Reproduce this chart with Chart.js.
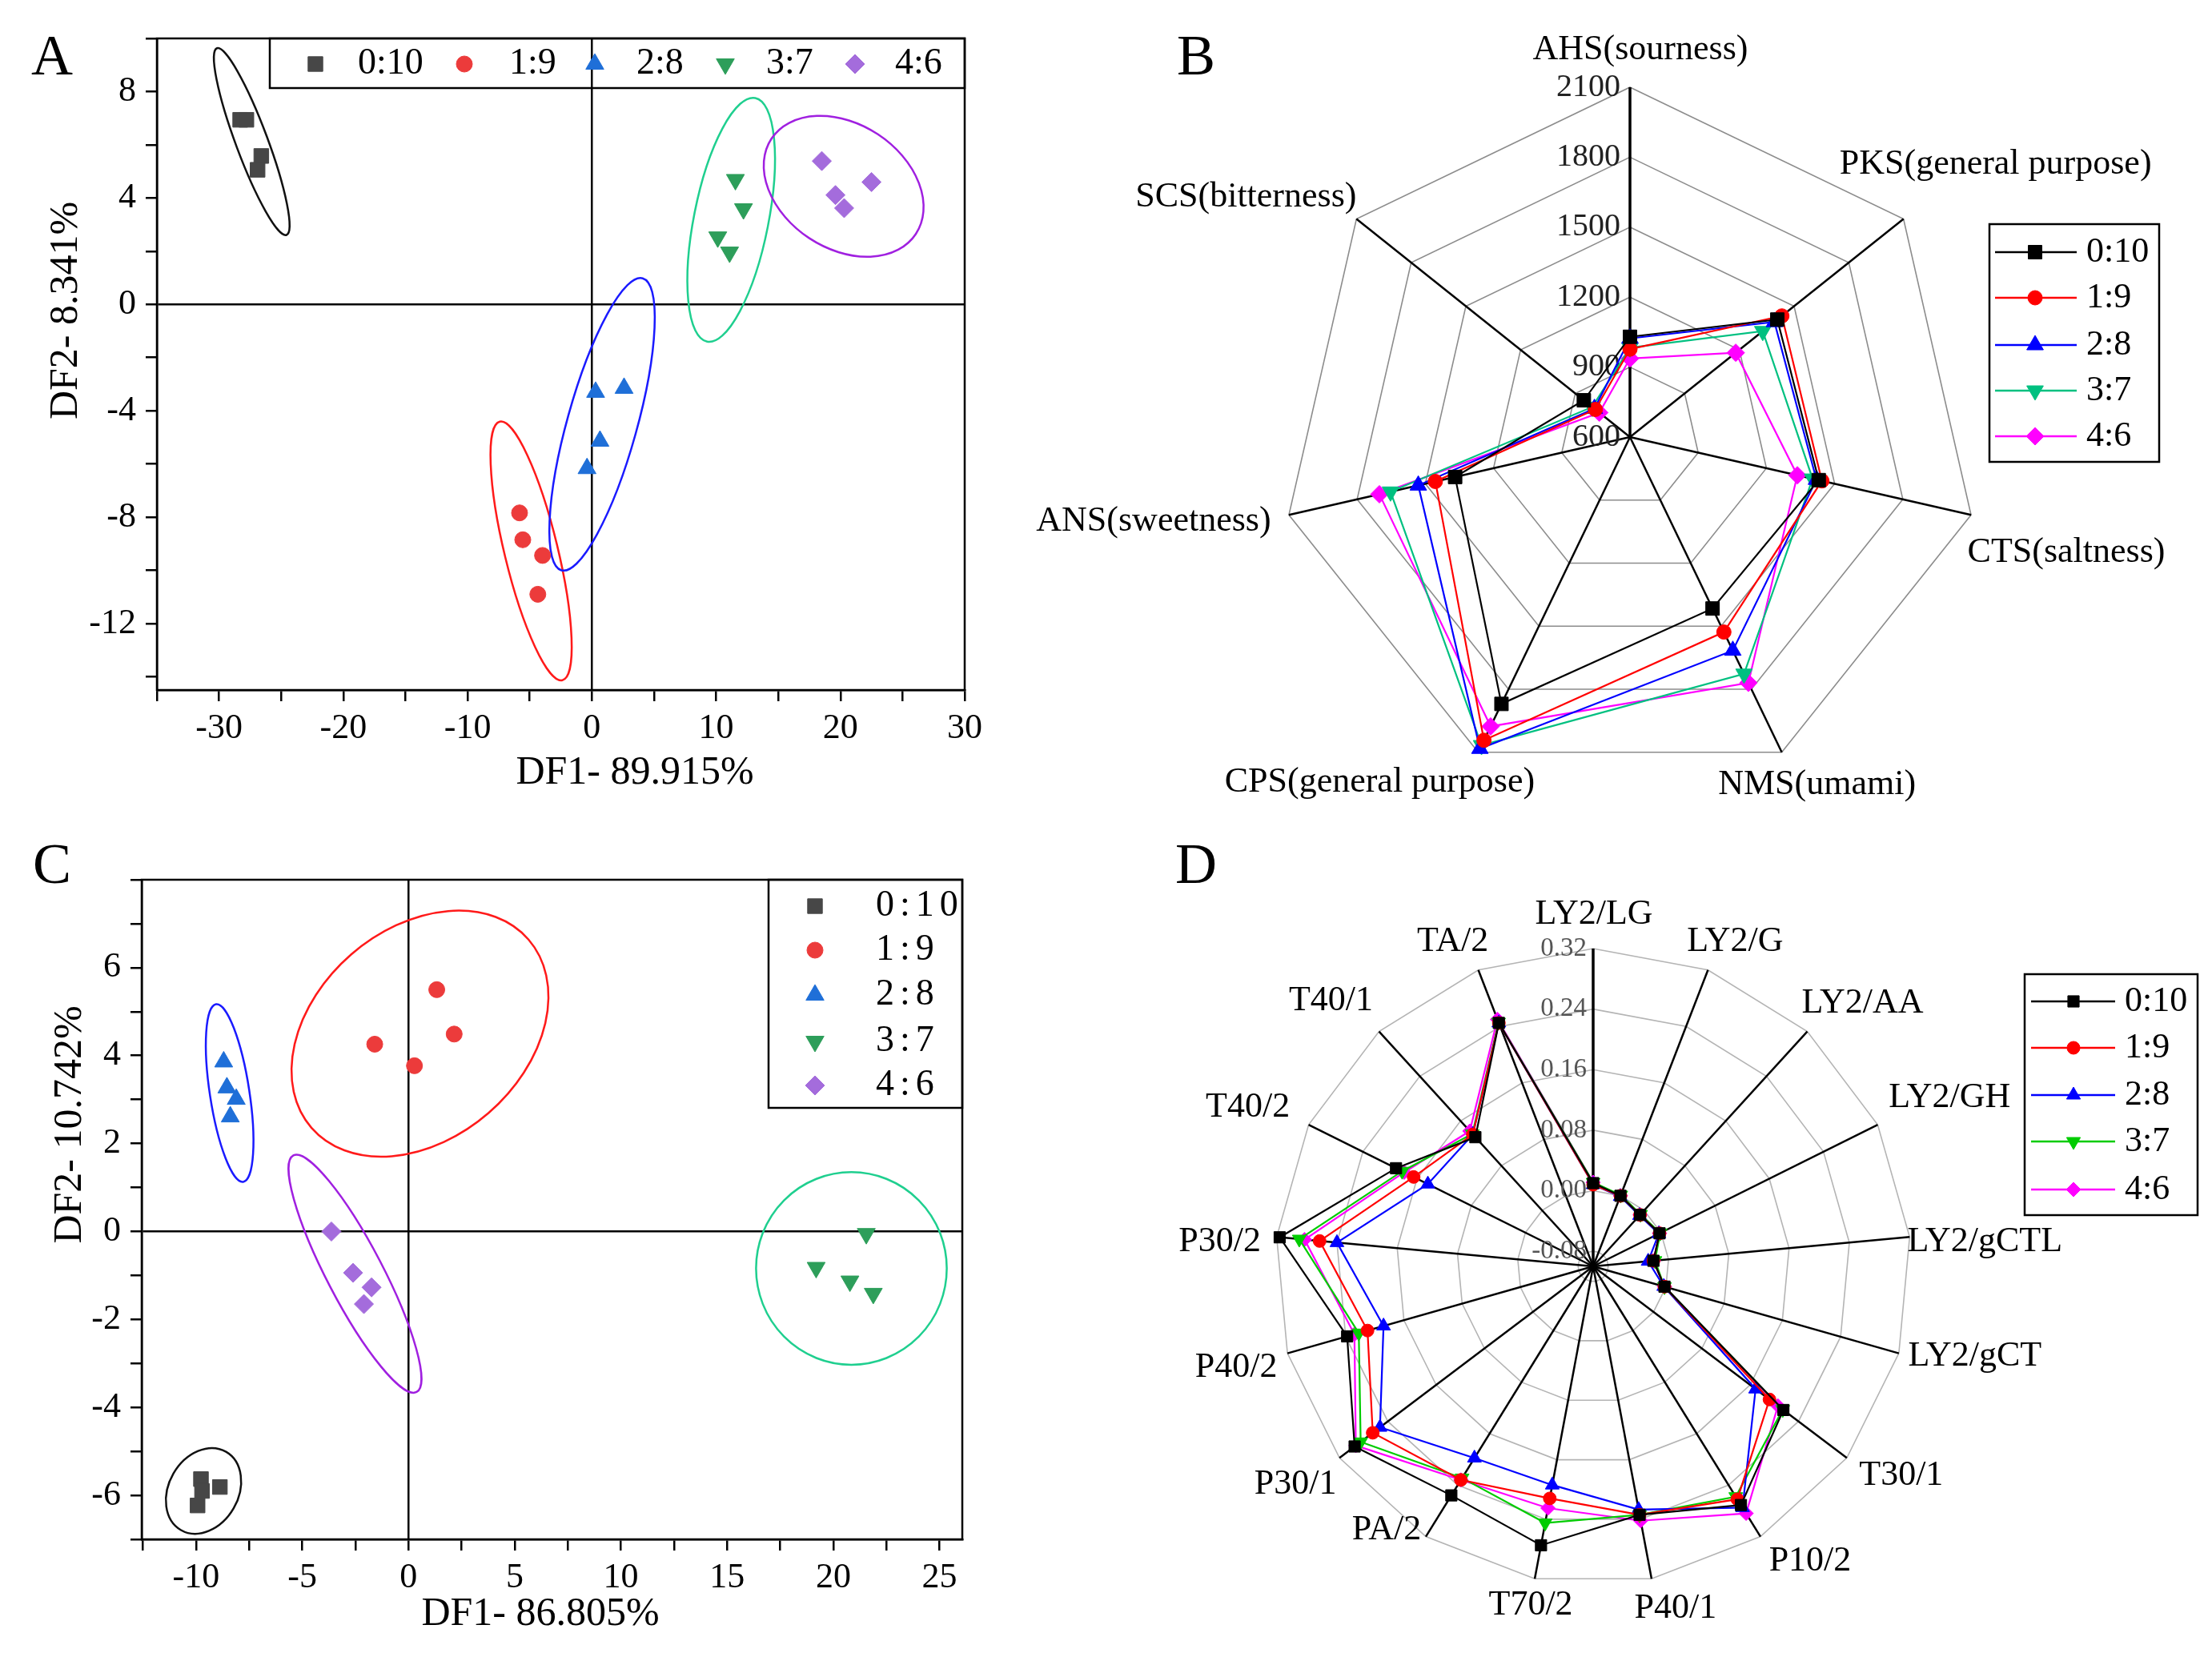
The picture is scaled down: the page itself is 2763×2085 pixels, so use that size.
<!DOCTYPE html>
<html>
<head>
<meta charset="utf-8">
<script src="https://cdn.jsdelivr.net/npm/chart.js"></script>
<style>
  html, body { margin: 0; padding: 0; background: #fff; }
  #wrap { position: relative; width: 2763px; height: 2085px; overflow: hidden; background: #fff; }
  canvas { position: absolute; }
</style>
</head>
<body>
<div id="wrap">
  <canvas id="chartA" width="1260" height="1040" style="left:0px;top:0px"></canvas>
  <canvas id="chartB" width="1533" height="1040" style="left:1230px;top:0px"></canvas>
  <canvas id="chartC" width="1260" height="1045" style="left:0px;top:1040px"></canvas>
  <canvas id="chartD" width="1383" height="1045" style="left:1380px;top:1040px"></canvas>
</div>
<script>
var groups = ["0:10", "1:9", "2:8", "3:7", "4:6"];

// A - e-tongue LDA scores [DF1, DF2]
var scoreA_010 = [[-28.3, 6.94], [-27.8, 6.94], [-26.6, 5.58], [-26.9, 5.06]];
var scoreA_19 = [[-5.82, -7.84], [-5.56, -8.85], [-3.97, -9.44], [-4.35, -10.9]];
var scoreA_28 = [[0.3, -3.3], [2.59, -3.15], [0.65, -5.14], [-0.39, -6.17]];
var scoreA_37 = [[11.55, 4.69], [12.2, 3.59], [10.13, 2.53], [11.08, 1.96]];
var scoreA_46 = [[18.5, 5.39], [22.5, 4.6], [19.6, 4.11], [20.3, 3.62]];
// confidence ellipses: centre x, centre y, end of long axis x, y, short/long ratio
var ellipseA = [
  [-27.37, 6.12, -30.17, 9.63, 0.16],
  [-4.89, -9.27, -7.41, -4.41, 0.2],
  [0.82, -4.51, 4.09, 0.98, 0.23],
  [11.21, 3.18, 13.15, 7.76, 0.3],
  [20.26, 4.44, 26.07, 2.65, 0.72]
];
var xTicksA = [-30, -20, -10, 0, 10, 20, 30];
var yTicksA = [-12, -8, -4, 0, 4, 8];

// C - e-nose LDA scores [DF1, DF2]
var scoreC_010 = [[-9.77, -5.63], [-9.72, -5.9], [-8.88, -5.81], [-9.93, -6.23]];
var scoreC_19 = [[1.33, 5.5], [-1.59, 4.26], [2.15, 4.49], [0.28, 3.77]];
var scoreC_28 = [[-8.7, 3.86], [-8.55, 3.27], [-8.11, 3.01], [-8.39, 2.61]];
var scoreC_37 = [[21.55, -0.05], [19.19, -0.82], [20.78, -1.13], [21.88, -1.41]];
var scoreC_46 = [[-3.63, 0.0], [-2.61, -0.94], [-1.74, -1.27], [-2.1, -1.65]];
var ellipseC = [
  [-9.65, -5.9, -8.59, -5.01, 0.77],
  [0.54, 4.5, 5.65, 6.64, 0.73],
  [-8.42, 3.15, -9.06, 5.17, 0.22],
  [20.85, -0.84, 20.85, 1.35, 0.99],
  [-2.52, -0.96, -5.42, 1.73, 0.21]
];
var xTicksC = [-10, -5, 0, 5, 10, 15, 20, 25];
var yTicksC = [-6, -4, -2, 0, 2, 4, 6];

// B - e-tongue sensor responses
var tasteAxes = ["AHS(sourness)", "PKS(general purpose)", "CTS(saltness)", "NMS(umami)",
                 "CPS(general purpose)", "ANS(sweetness)", "SCS(bitterness)"];
var taste_010 = [1030, 1408, 1430, 1416, 1870, 1369, 853];
var taste_19 = [977, 1433, 1444, 1528, 2043, 1456, 790];
var taste_28 = [1023, 1392, 1420, 1616, 2083, 1531, 795];
var taste_37 = [983, 1328, 1403, 1727, 2067, 1653, 807];
var taste_46 = [937, 1180, 1336, 1770, 1977, 1702, 768];
var tasteTicks = [600, 900, 1200, 1500, 1800, 2100];

// D - e-nose sensor responses
var sensors = ["LY2/LG", "LY2/G", "LY2/AA", "LY2/GH", "LY2/gCTL", "LY2/gCT", "T30/1", "P10/2", "P40/1",
               "T70/2", "PA/2", "P30/1", "P40/2", "P30/2", "T40/2", "T40/1", "TA/2"];
var nose_010 = [0.010, 0.000, -0.008, -0.002, -0.020, -0.002, 0.215, 0.271, 0.234, 0.275, 0.256, 0.295, 0.238, 0.316, 0.191, 0.131, 0.245];
var nose_19 = [0.008, 0.000, -0.008, -0.002, -0.020, -0.002, 0.192, 0.262, 0.234, 0.212, 0.232, 0.265, 0.210, 0.263, 0.165, 0.136, 0.245];
var nose_28 = [0.008, -0.001, -0.009, -0.003, -0.027, -0.003, 0.169, 0.275, 0.227, 0.194, 0.198, 0.253, 0.188, 0.240, 0.144, 0.136, 0.245];
var nose_37 = [0.011, 0.001, -0.007, -0.001, -0.018, -0.002, 0.214, 0.258, 0.234, 0.245, 0.229, 0.285, 0.222, 0.290, 0.182, 0.137, 0.246];
var nose_46 = [0.011, 0.000, -0.008, -0.002, -0.020, -0.002, 0.206, 0.284, 0.242, 0.225, 0.232, 0.293, 0.228, 0.283, 0.179, 0.142, 0.250];
var sensorTicks = [-0.08, 0.00, 0.08, 0.16, 0.24, 0.32];

// styles
var serif = "'Liberation Serif', 'Times New Roman', serif";
var markStyle = ['rect', 'circle', 'triangle', 'triangle', 'rectRot'];
var markRot = [0, 0, 0, 180, 0];
var dotColor = ['#474747', '#ec3b3b', '#1f6fd8', '#2d9e5a', '#a46cdc'];
var dotSize = [13, 10, 13, 13, 12];
var ringColor = ['#111111', '#ff1a1a', '#1a1aff', '#1fcf8f', '#a020e0'];
var lineColorB = ['#000000', '#ff0000', '#0000ff', '#00c080', '#ff00ff'];
var lineColorD = ['#000000', '#ff0000', '#0000ff', '#00cc00', '#ff00ff'];
var sizeB = [12, 9, 12, 12, 11];
var sizeD = [10, 8, 10, 10, 9];

var H = Chart.helpers;
function mark(ctx, i, r, x, y) {
  if (H && H.drawPoint) {
    H.drawPoint(ctx, {pointStyle: markStyle[i], rotation: markRot[i], radius: r, borderWidth: 1}, x, y);
  } else {
    ctx.beginPath(); ctx.arc(x, y, r * 0.8, 0, Math.PI * 2); ctx.fill();
  }
}
function pick(v, i) { return Array.isArray(v) ? v[i] : v; }

function textPlugin(items) {
  return {
    id: 'texts',
    afterDraw: function(chart) {
      var ctx = chart.ctx;
      items.forEach(function(t) {
        ctx.save();
        ctx.fillStyle = '#000';
        ctx.font = t.font;
        ctx.textAlign = 'center';
        ctx.textBaseline = 'middle';
        ctx.translate(t.x, t.y);
        if (t.rot) ctx.rotate(t.rot);
        ctx.fillText(t.text, 0, 0);
        ctx.restore();
      });
    }
  };
}

function framePlugin() {
  return {
    id: 'frame',
    afterDraw: function(chart) {
      var a = chart.chartArea, ctx = chart.ctx;
      ctx.save();
      ctx.strokeStyle = '#000';
      ctx.lineWidth = 2.5;
      ctx.strokeRect(a.left, a.top, a.right - a.left, a.bottom - a.top);
      ctx.restore();
    }
  };
}

function ellipsePlugin(ells) {
  return {
    id: 'ellipses',
    beforeDatasetsDraw: function(chart) {
      var xs = chart.scales.x, ys = chart.scales.y, ctx = chart.ctx;
      ctx.save();
      ctx.lineWidth = 2.5;
      ells.forEach(function(e, i) {
        var cx = xs.getPixelForValue(e[0]), cy = ys.getPixelForValue(e[1]);
        var ex = xs.getPixelForValue(e[2]), ey = ys.getPixelForValue(e[3]);
        var a = Math.hypot(ex - cx, ey - cy);
        var rot = Math.atan2(ey - cy, ex - cx);
        ctx.strokeStyle = ringColor[i];
        ctx.beginPath();
        ctx.ellipse(cx, cy, a, a * e[4], rot, 0, Math.PI * 2);
        ctx.stroke();
      });
      ctx.restore();
    }
  };
}

function legendPlugin(L) {
  return {
    id: 'boxLegend',
    afterDraw: function(chart) {
      var ctx = chart.ctx;
      ctx.save();
      ctx.strokeStyle = '#000';
      ctx.lineWidth = 2.5;
      ctx.strokeRect(L.box[0], L.box[1], L.box[2], L.box[3]);
      ctx.font = L.font;
      ctx.textBaseline = 'middle';
      ctx.textAlign = 'left';
      if (L.spacing) ctx.letterSpacing = L.spacing;
      chart.data.datasets.forEach(function(ds, i) {
        var y = pick(L.rowY, i), mx = pick(L.markX, i), tx = pick(L.textX, i);
        var col = ds.pointBackgroundColor;
        if (L.line) {
          ctx.strokeStyle = ds.borderColor;
          ctx.lineWidth = 2.5;
          ctx.beginPath(); ctx.moveTo(L.line[0], y); ctx.lineTo(L.line[1], y); ctx.stroke();
        }
        ctx.fillStyle = col; ctx.strokeStyle = col; ctx.lineWidth = 1;
        mark(ctx, i, ds.pointRadius, mx, y);
        ctx.fillStyle = '#000';
        ctx.fillText(ds.label, tx, y);
      });
      ctx.restore();
    }
  };
}

function radarTextPlugin(R) {
  return {
    id: 'radarText',
    beforeDatasetsDraw: function(chart) {
      var s = chart.scales.r, ctx = chart.ctx;
      ctx.save();
      ctx.fillStyle = '#000';
      ctx.font = R.labelFont;
      ctx.textAlign = 'center';
      ctx.textBaseline = 'middle';
      chart.data.labels.forEach(function(lab, i) {
        var p = s.getPointPosition(i, s.drawingArea);
        ctx.fillText(lab, p.x + R.offsets[i][0], p.y + R.offsets[i][1]);
      });
      ctx.font = R.tickFont;
      ctx.fillStyle = R.tickColor;
      ctx.textAlign = 'right';
      R.ticks.forEach(function(v) {
        var y = s.yCenter - s.getDistanceFromCenterForValue(v);
        ctx.fillText(v.toFixed(R.digits), s.xCenter - R.gap, y);
      });
      ctx.restore();
    }
  };
}

function scatterSets(sets) {
  return sets.map(function(pts, i) {
    return {
      label: groups[i],
      data: pts.map(function(p) { return {x: p[0], y: p[1]}; }),
      pointStyle: markStyle[i],
      pointRotation: markRot[i],
      pointRadius: dotSize[i],
      pointBackgroundColor: dotColor[i],
      pointBorderColor: dotColor[i],
      pointBorderWidth: 1
    };
  });
}

function scatterOptions(L, xr, yr, xLab, yLab) {
  function zero(c) { return c.tick && c.tick.value === 0 ? '#000' : 'rgba(0,0,0,0)'; }
  var tickFont = {family: serif, size: 44};
  return {
    responsive: false,
    animation: false,
    layout: {padding: {left: 0, top: L.top, right: L.right, bottom: 0}},
    plugins: {legend: {display: false}, tooltip: {enabled: false}},
    scales: {
      x: {
        type: 'linear', min: xr[0], max: xr[1],
        ticks: {stepSize: xr[2], includeBounds: false, autoSkip: false, maxRotation: 0, padding: 8,
                color: '#000', font: tickFont,
                callback: function(v) { return xLab.indexOf(v) >= 0 ? String(v) : ''; }},
        grid: {color: zero, lineWidth: 2.5, tickColor: '#000', tickWidth: 2.5, tickLength: 14},
        border: {color: '#000', width: 2.5},
        afterFit: function(s) { s.height = L.xh; }
      },
      y: {
        type: 'linear', min: yr[0], max: yr[1],
        ticks: {stepSize: yr[2], includeBounds: false, autoSkip: false, padding: 12,
                color: '#000', font: tickFont,
                callback: function(v) { return yLab.indexOf(v) >= 0 ? String(v) : ''; }},
        grid: {color: zero, lineWidth: 2.5, tickColor: '#000', tickWidth: 2.5, tickLength: 14},
        border: {color: '#000', width: 2.5},
        afterFit: function(s) { s.width = L.yw; }
      }
    }
  };
}

function radarSets(series, colors, sizes) {
  return series.map(function(vals, i) {
    return {
      label: groups[i],
      data: vals,
      fill: false,
      borderColor: colors[i],
      borderWidth: 2.2,
      pointStyle: markStyle[i],
      pointRotation: markRot[i],
      pointRadius: sizes[i],
      pointBackgroundColor: colors[i],
      pointBorderColor: colors[i],
      pointBorderWidth: 1
    };
  });
}

function radarOptions(c, r, min, max, step, gridColor, fixTicks) {
  var scale = {
    min: min, max: max,
    ticks: {display: false, stepSize: step},
    grid: {color: gridColor, lineWidth: 1.6},
    angleLines: {color: '#000', lineWidth: function(ctx) { return ctx.index === 0 ? 3.5 : 2.5; }},
    pointLabels: {display: false},
    afterFit: function(s) { s.xCenter = c[0]; s.yCenter = c[1]; s.drawingArea = r; }
  };
  if (fixTicks) {
    scale.afterBuildTicks = function(s) { s.ticks = fixTicks.map(function(v) { return {value: v}; }); };
  }
  return {
    responsive: false,
    animation: false,
    plugins: {legend: {display: false}, tooltip: {enabled: false}},
    elements: {line: {tension: 0}},
    scales: {r: scale}
  };
}

// ---- A ----
new Chart(document.getElementById('chartA'), {
  type: 'scatter',
  data: {datasets: scatterSets([scoreA_010, scoreA_19, scoreA_28, scoreA_37, scoreA_46])},
  options: scatterOptions({top: 48, right: 55, xh: 178, yw: 196}, [-35, 30, 5], [-14.5, 10, 2], xTicksA, yTicksA),
  plugins: [
    ellipsePlugin(ellipseA),
    framePlugin(),
    legendPlugin({box: [337, 48, 868, 62], rowY: 80, markX: [394, 580, 743, 906, 1068],
                  textX: [447, 636, 795, 957, 1118], font: '46px ' + serif}),
    textPlugin([
      {text: 'A', x: 65, y: 74, font: '72px ' + serif},
      {text: 'DF1- 89.915%', x: 793, y: 966, font: '50px ' + serif},
      {text: 'DF2- 8.341%', x: 83, y: 388, rot: -Math.PI / 2, font: '50px ' + serif}
    ])
  ]
});

// ---- C ----
new Chart(document.getElementById('chartC'), {
  type: 'scatter',
  data: {datasets: scatterSets([scoreC_010, scoreC_19, scoreC_28, scoreC_37, scoreC_46])},
  options: scatterOptions({top: 59, right: 58, xh: 162, yw: 177}, [-12.56, 26.07, 2.5], [-7, 8, 1], xTicksC, yTicksC),
  plugins: [
    ellipsePlugin(ellipseC),
    framePlugin(),
    legendPlugin({box: [960, 59, 242, 285], rowY: [92, 147, 203, 261, 316], markX: 1018,
                  textX: 1094, font: '46px ' + serif, spacing: '7px'}),
    textPlugin([
      {text: 'C', x: 65, y: 44, font: '72px ' + serif},
      {text: 'DF1- 86.805%', x: 675, y: 977, font: '50px ' + serif},
      {text: 'DF2- 10.742%', x: 88, y: 365, rot: -Math.PI / 2, font: '50px ' + serif}
    ])
  ]
});

// ---- B ----
new Chart(document.getElementById('chartB'), {
  type: 'radar',
  data: {labels: tasteAxes, datasets: radarSets([taste_010, taste_19, taste_28, taste_37, taste_46], lineColorB, sizeB)},
  options: radarOptions([806, 546], 437, 600, 2100, 300, '#8c8c8c'),
  plugins: [
    radarTextPlugin({labelFont: '44px ' + serif, tickFont: '40px ' + serif, tickColor: '#222', ticks: tasteTicks,
                     digits: 0, gap: 12,
                     offsets: [[13, -47], [115, -68], [119, 47], [44, 41], [-123, 38], [-169, 8], [-138, -27]]}),
    legendPlugin({box: [1255, 280, 212, 297], rowY: [315, 372, 431, 488, 545], markX: 1312, line: [1262, 1364],
                  textX: 1376, font: '44px ' + serif}),
    textPlugin([{text: 'B', x: 264, y: 74, font: '72px ' + serif}])
  ]
});

// ---- D ----
new Chart(document.getElementById('chartD'), {
  type: 'radar',
  data: {labels: sensors, datasets: radarSets([nose_010, nose_19, nose_28, nose_37, nose_46], lineColorD, sizeD)},
  options: radarOptions([610, 542], 397, -0.1, 0.32, 0.08, '#b4b4b4', sensorTicks),
  plugins: [
    radarTextPlugin({labelFont: '44px ' + serif, tickFont: '33px ' + serif, tickColor: '#555', ticks: sensorTicks,
                     digits: 2, gap: 8,
                     offsets: [[1, -43], [34, -35], [69, -35], [90, -34], [94, 6], [95, 4], [68, 22], [62, 31],
                               [30, 37], [-5, 33], [-49, -8], [-55, 33], [-64, 18], [-71, 6], [-76, -22],
                               [-60, -38], [-32, -35]]}),
    legendPlugin({box: [1149, 177, 216, 301], rowY: [211, 269, 328, 386, 446], markX: 1210, line: [1157, 1262],
                  textX: 1274, font: '44px ' + serif}),
    textPlugin([{text: 'D', x: 114, y: 44, font: '72px ' + serif}])
  ]
});
</script>
</body>
</html>
